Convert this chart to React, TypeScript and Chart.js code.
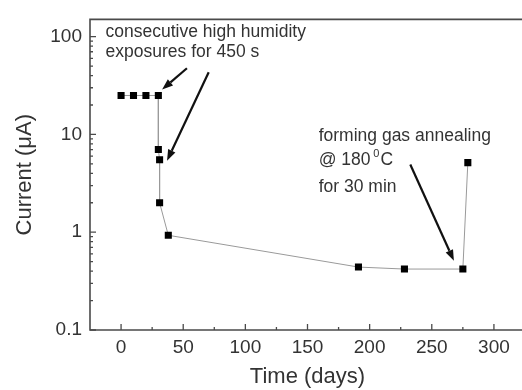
import React, { useEffect, useRef } from "react";
import { Chart, registerables } from "chart.js";

Chart.register(...registerables);

// ---- data ----
const days = [0, 10, 20, 30, 30, 31, 31, 38, 191, 228, 275, 279];
const currentUA = [25, 25, 25, 25, 7.0, 5.5, 2.0, 0.93, 0.44, 0.42, 0.42, 5.15];

const xTickValues = [0, 50, 100, 150, 200, 250, 300];
const xMinorValues = [25, 75, 125, 175, 225, 275, 325];
const yTickValues = [0.1, 1, 10, 100];

const xTitle = "Time (days)";
const yTitle = "Current (\u03bcA)";

const FONT = "'Liberation Sans', Arial, Helvetica, sans-serif";
const TEXT = "#333333";
const AXIS = "#4a4a4a";

// annotation text (positions expressed in data coordinates)
const noteA = ["consecutive high humidity", "exposures for 450 s"];
const noteAAt = { x: -12.5, y: [112, 69.7] };
const noteB = ["forming gas annealing", "@ 180 ", "0", "C", "for 30 min"];
const noteBAt = { x: 159, y: [9.49, 5.39, 2.92] };

// arrows: [fromDay, fromCurrent, toDay, toCurrent]
const arrows: number[][] = [
  [53, 47.5, 33, 28.8],
  [70.5, 43.3, 37, 5.39],
  [232.7, 4.92, 267.8, 0.51],
];

const overlay = {
  id: "overlay",
  afterDatasetsDraw(chart: any) {
    const { ctx, chartArea: a, scales } = chart;
    const x = scales.x;
    const y = scales.y;
    ctx.save();

    // frame
    ctx.strokeStyle = AXIS;
    ctx.lineWidth = 1.6;
    ctx.beginPath();
    ctx.moveTo(a.right + 5, a.top);
    ctx.lineTo(a.left, a.top);
    ctx.lineTo(a.left, a.bottom);
    ctx.lineTo(a.right + 5, a.bottom);
    ctx.stroke();

    // inward ticks
    ctx.lineWidth = 1.3;
    ctx.beginPath();
    xTickValues.forEach((v) => {
      const px = x.getPixelForValue(v);
      ctx.moveTo(px, a.bottom);
      ctx.lineTo(px, a.bottom - 6);
    });
    xMinorValues.forEach((v) => {
      const px = x.getPixelForValue(v);
      if (px < a.right) {
        ctx.moveTo(px, a.bottom);
        ctx.lineTo(px, a.bottom - 3);
      }
    });
    yTickValues.forEach((v) => {
      const py = y.getPixelForValue(v);
      ctx.moveTo(a.left, py);
      ctx.lineTo(a.left + 6, py);
      for (let m = 2; m <= 9; m++) {
        const mv = v * m;
        const my = y.getPixelForValue(mv);
        if (my >= a.top) {
          ctx.moveTo(a.left, my);
          ctx.lineTo(a.left + 3, my);
        }
      }
    });
    ctx.stroke();

    // arrows
    ctx.strokeStyle = "#111";
    ctx.fillStyle = "#111";
    arrows.forEach(([d0, c0, d1, c1]) => {
      const x0 = x.getPixelForValue(d0);
      const y0 = y.getPixelForValue(c0);
      const x1 = x.getPixelForValue(d1);
      const y1 = y.getPixelForValue(c1);
      const ang = Math.atan2(y1 - y0, x1 - x0);
      const head = 11;
      const half = 4;
      const bx = x1 - head * Math.cos(ang);
      const by = y1 - head * Math.sin(ang);
      ctx.lineWidth = 2.2;
      ctx.beginPath();
      ctx.moveTo(x0, y0);
      ctx.lineTo(bx, by);
      ctx.stroke();
      ctx.beginPath();
      ctx.moveTo(x1, y1);
      ctx.lineTo(bx + half * Math.sin(ang), by - half * Math.cos(ang));
      ctx.lineTo(bx - half * Math.sin(ang), by + half * Math.cos(ang));
      ctx.closePath();
      ctx.fill();
    });

    // annotation text
    ctx.fillStyle = TEXT;
    ctx.textBaseline = "middle";
    ctx.textAlign = "left";
    ctx.font = `17.5px ${FONT}`;
    const ax = x.getPixelForValue(noteAAt.x);
    noteA.forEach((t, i) => {
      ctx.fillText(t, ax, y.getPixelForValue(noteAAt.y[i]));
    });
    const bx0 = x.getPixelForValue(noteBAt.x);
    ctx.fillText(noteB[0], bx0, y.getPixelForValue(noteBAt.y[0]));
    const l2 = y.getPixelForValue(noteBAt.y[1]);
    ctx.fillText(noteB[1], bx0, l2);
    let cx = bx0 + ctx.measureText(noteB[1]).width;
    ctx.font = `11px ${FONT}`;
    ctx.fillText(noteB[2], cx - 2, l2 - 7);
    cx += ctx.measureText(noteB[2]).width - 1;
    ctx.font = `17.5px ${FONT}`;
    ctx.fillText(noteB[3], cx, l2);
    ctx.fillText(noteB[4], bx0, y.getPixelForValue(noteBAt.y[2]));

    ctx.restore();
  },
};

export default function App() {
  const ref = useRef<HTMLCanvasElement>(null);

  useEffect(() => {
    document.body.style.margin = "0";
    const canvas = ref.current;
    if (!canvas) return;
    const chart = new Chart(canvas, {
      type: "scatter",
      data: {
        datasets: [
          {
            data: days.map((d, i) => ({ x: d, y: currentUA[i] })),
            showLine: true,
            borderColor: "#9a9a9a",
            borderWidth: 1,
            pointStyle: "rect",
            pointRadius: 5,
            pointBorderWidth: 0,
            pointBackgroundColor: "#000",
            pointBorderColor: "#000",
            tension: 0,
          },
        ],
      },
      options: {
        animation: false,
        responsive: false,
        devicePixelRatio: 1,
        layout: { padding: { top: 9, right: 1, left: 0, bottom: 0 } },
        plugins: {
          legend: { display: false },
          tooltip: { enabled: false },
        },
        scales: {
          x: {
            type: "linear",
            min: -25,
            max: 325,
            grid: { display: false, drawTicks: false },
            border: { display: false },
            afterBuildTicks: (s: any) => {
              s.ticks = xTickValues.map((v) => ({ value: v }));
            },
            afterFit: (s: any) => {
              s.height = 60;
            },
            ticks: {
              color: TEXT,
              padding: 6,
              maxRotation: 0,
              autoSkip: false,
              font: { family: FONT, size: 19 },
              callback: (v: any) => String(v),
            },
            title: {
              display: true,
              text: xTitle,
              color: TEXT,
              font: { family: FONT, size: 22 },
              padding: { top: 0, bottom: 0 },
            },
          },
          y: {
            type: "logarithmic",
            min: 0.1,
            max: 150,
            grid: { display: false, drawTicks: false },
            border: { display: false },
            afterBuildTicks: (s: any) => {
              s.ticks = yTickValues.map((v) => ({ value: v }));
            },
            afterFit: (s: any) => {
              s.width = 90;
            },
            ticks: {
              color: TEXT,
              padding: 8,
              autoSkip: false,
              font: { family: FONT, size: 19 },
              callback: (v: any) => String(v),
            },
            title: {
              display: true,
              text: yTitle,
              color: TEXT,
              font: { family: FONT, size: 22 },
              padding: { top: 12, bottom: 12 },
            },
          },
        },
      },
      plugins: [overlay],
    } as any);
    return () => chart.destroy();
  }, []);

  return (
    <div style={{ position: "fixed", left: 0, top: 0, width: 522, height: 390, overflow: "hidden", background: "#fff" }}>
      <canvas ref={ref} width={530} height={390} style={{ width: 530, height: 390, display: "block" }} />
    </div>
  );
}
